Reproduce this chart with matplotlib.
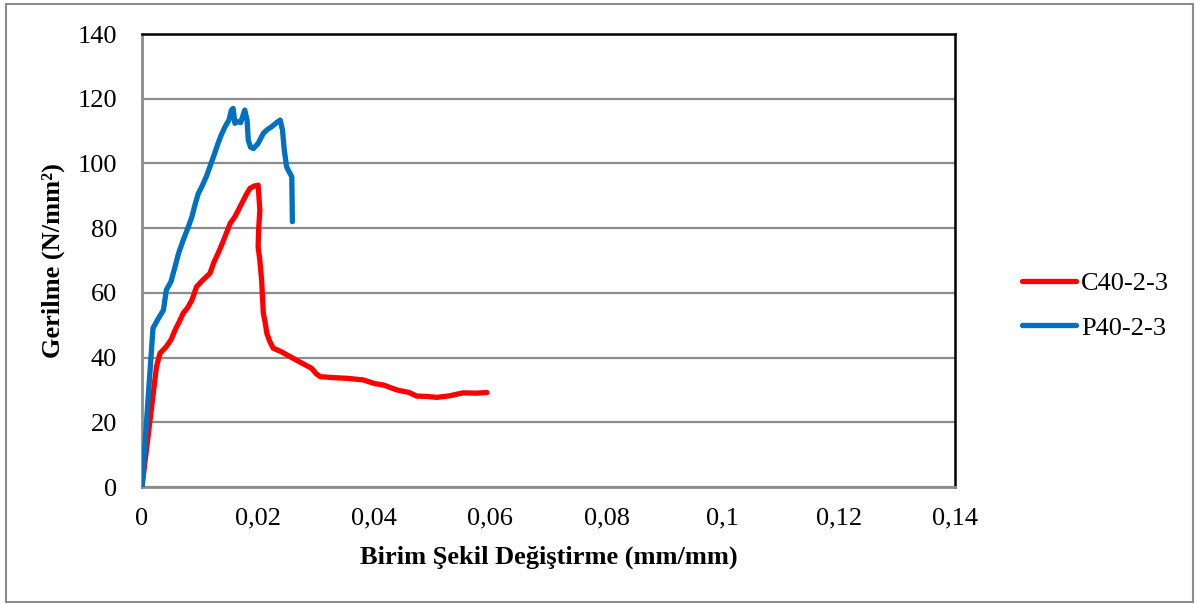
import matplotlib
matplotlib.use("Agg")
import matplotlib.pyplot as plt
from matplotlib.patches import Rectangle

# Stress-strain readings for the two specimens
c40_strain = [0, 0.0025, 0.0031, 0.0042, 0.0050, 0.0057, 0.0064, 0.0071, 0.0079,
              0.0086, 0.0094, 0.0105, 0.0117, 0.0124, 0.0131, 0.0140, 0.0152, 0.0160,
              0.0172, 0.0180, 0.0186, 0.0193, 0.0200, 0.0203, 0.0201, 0.0200, 0.0203,
              0.0206, 0.0209, 0.0212, 0.0215, 0.0220, 0.0226, 0.0240, 0.0255, 0.0270,
              0.0292, 0.0300, 0.0307, 0.0330, 0.0352, 0.0381, 0.0400, 0.0416, 0.0439,
              0.0460, 0.0473, 0.0490, 0.0508, 0.0530, 0.0553, 0.0575, 0.0594]
c40_stress = [0, 37.2, 41.3, 43.4, 45.5, 48.5, 51.0, 53.7, 55.5,
              57.8, 61.9, 64.0, 66.0, 69.5, 72.2, 76.0, 81.5, 83.5,
              87.7, 90.5, 92.3, 93.0, 93.3, 85.6, 80.0, 74.3, 70.0,
              64.0, 53.7, 51.0, 47.5, 45.0, 42.9, 41.8, 40.3, 38.8,
              36.7, 35.0, 34.1, 33.8, 33.6, 33.1, 32.0, 31.5, 30.0,
              29.2, 28.1, 28.0, 27.7, 28.2, 29.1, 29.0, 29.2]

p40_strain = [0, 0.0019, 0.0028, 0.0037, 0.0042, 0.0050, 0.0057, 0.0063, 0.0071,
              0.0079, 0.0086, 0.0092, 0.0097, 0.0103, 0.0111, 0.0117, 0.0124, 0.0131,
              0.0137, 0.0143, 0.0150, 0.0154, 0.0157, 0.0160, 0.0163, 0.0170, 0.0177,
              0.0181, 0.0183, 0.0187, 0.0192, 0.0200, 0.0209, 0.0216, 0.0223, 0.0231,
              0.0238, 0.0242, 0.0245, 0.0249, 0.0253, 0.0258, 0.0259]
p40_stress = [0, 49.1, 52.0, 54.7, 60.9, 63.5, 68.1, 72.2, 76.3,
              80.0, 83.5, 87.7, 90.7, 92.8, 96.0, 99.0, 102.5, 106.2,
              109.0, 111.3, 113.5, 116.5, 117.0, 112.4, 113.0, 112.6, 116.5,
              113.4, 107.2, 105.0, 104.6, 106.2, 109.3, 110.5, 111.3, 112.5,
              113.4, 110.3, 104.2, 99.0, 97.5, 95.9, 82.0]

x_ticks = [0, 0.02, 0.04, 0.06, 0.08, 0.10, 0.12, 0.14]
x_tick_labels = ["0", "0,02", "0,04", "0,06", "0,08", "0,1", "0,12", "0,14"]
y_ticks = [0, 20, 40, 60, 80, 100, 120, 140]

plt.rcParams["font.family"] = ["Liberation Serif", "DejaVu Serif"]

fig = plt.figure(figsize=(11.95, 6.04), dpi=100)
ax = fig.add_axes([0.1188, 0.1937, 0.6804, 0.75])

ax.plot(c40_strain, c40_stress, color="#FF0000", linewidth=3.8,
        solid_capstyle="round", solid_joinstyle="round", label="C40-2-3", zorder=3)
ax.plot(p40_strain, p40_stress, color="#0070C0", linewidth=3.8,
        solid_capstyle="round", solid_joinstyle="round", label="P40-2-3", zorder=3)

ax.set_xlim(0, 0.14)
ax.set_ylim(0, 140)
ax.set_xticks(x_ticks)
ax.set_xticklabels(x_tick_labels)
ax.set_yticks(y_ticks)
ax.tick_params(length=0, labelsize=19, pad=15)
ax.tick_params(axis="y", pad=18)
ax.grid(True, axis="y", color="#8c8c8c", linewidth=1.6, zorder=1)

for side in ("left", "bottom"):
    ax.spines[side].set_color("#8c8c8c")
    ax.spines[side].set_linewidth(2)
for side in ("top", "right"):
    ax.spines[side].set_color("black")
    ax.spines[side].set_linewidth(1.8)

ax.set_xlabel("Birim Şekil Değiştirme (mm/mm)", fontsize=19, fontweight="bold", labelpad=11)
ax.set_ylabel("Gerilme (N/mm²)", fontsize=19, fontweight="bold", labelpad=9)

ax.legend(loc="center left", bbox_to_anchor=(1.053, 0.40), frameon=False,
          fontsize=19, handlelength=2.05, labelspacing=0.79, handletextpad=0.2)

# thin chart-area border around the whole figure
fig.patches.append(Rectangle((0.005, 0.003), 0.993, 0.99, transform=fig.transFigure,
                             fill=False, edgecolor="#8c8c8c", linewidth=1.5))

fig.savefig("out.png", dpi=100)
